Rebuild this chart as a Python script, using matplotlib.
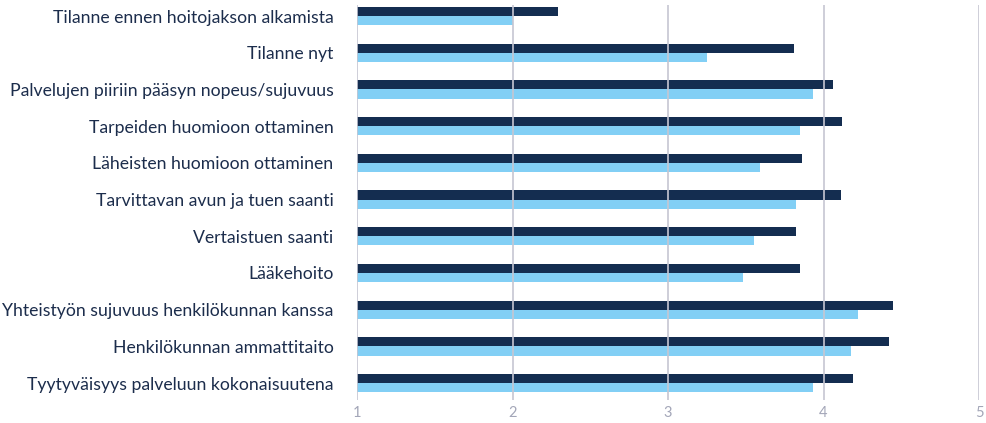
import matplotlib
matplotlib.use("Agg")
import matplotlib.pyplot as plt
import numpy as np

categories = [
    "Tilanne ennen hoitojakson alkamista",
    "Tilanne nyt",
    "Palvelujen piiriin pääsyn nopeus/sujuvuus",
    "Tarpeiden huomioon ottaminen",
    "Läheisten huomioon ottaminen",
    "Tarvittavan avun ja tuen saanti",
    "Vertaistuen saanti",
    "Lääkehoito",
    "Yhteistyön sujuvuus henkilökunnan kanssa",
    "Henkilökunnan ammattitaito",
    "Tyytyväisyys palveluun kokonaisuutena",
]
dark_values = [2.29, 3.81, 4.06, 4.12, 3.86, 4.11, 3.82, 3.85, 4.45, 4.42, 4.19]
light_values = [2.00, 3.25, 3.93, 3.85, 3.59, 3.82, 3.55, 3.48, 4.22, 4.18, 3.93]
xticks = [1, 2, 3, 4, 5]

dark_color = "#142d50"
light_color = "#82cff5"
text_color = "#1c2d4c"
grid_color = "#c6c6d2"
tick_color = "#a3a6b8"

plt.rcParams['font.family'] = ['Lato', 'DejaVu Sans']

fig = plt.figure(figsize=(9.86, 4.23), dpi=100)
ax = fig.add_axes([357/986, 1 - 400/423, (979-357)/986, 395/423])

y = np.arange(len(categories))
h = 0.25
ax.barh(y - h/2, np.array(dark_values) - 1, left=1, height=h, color=dark_color, zorder=2)
ax.barh(y + h/2, np.array(light_values) - 1, left=1, height=h, color=light_color, zorder=2)

ax.set_xlim(1, 5)
ax.set_ylim(10.46, -0.3)
ax.set_xticks(xticks)
ax.set_xticklabels([str(t) for t in xticks])
for t in xticks:
    ax.axvline(t, color=grid_color, lw=1.2, zorder=3)

ax.set_yticks(y)
ax.set_yticklabels(categories, fontsize=12.7, color=text_color)
ax.tick_params(axis='y', length=0, pad=17)
ax.tick_params(axis='x', length=0, pad=4, labelsize=10.5, labelcolor=tick_color)
for s in ax.spines.values():
    s.set_visible(False)

fig.savefig("out.png", dpi=100)
